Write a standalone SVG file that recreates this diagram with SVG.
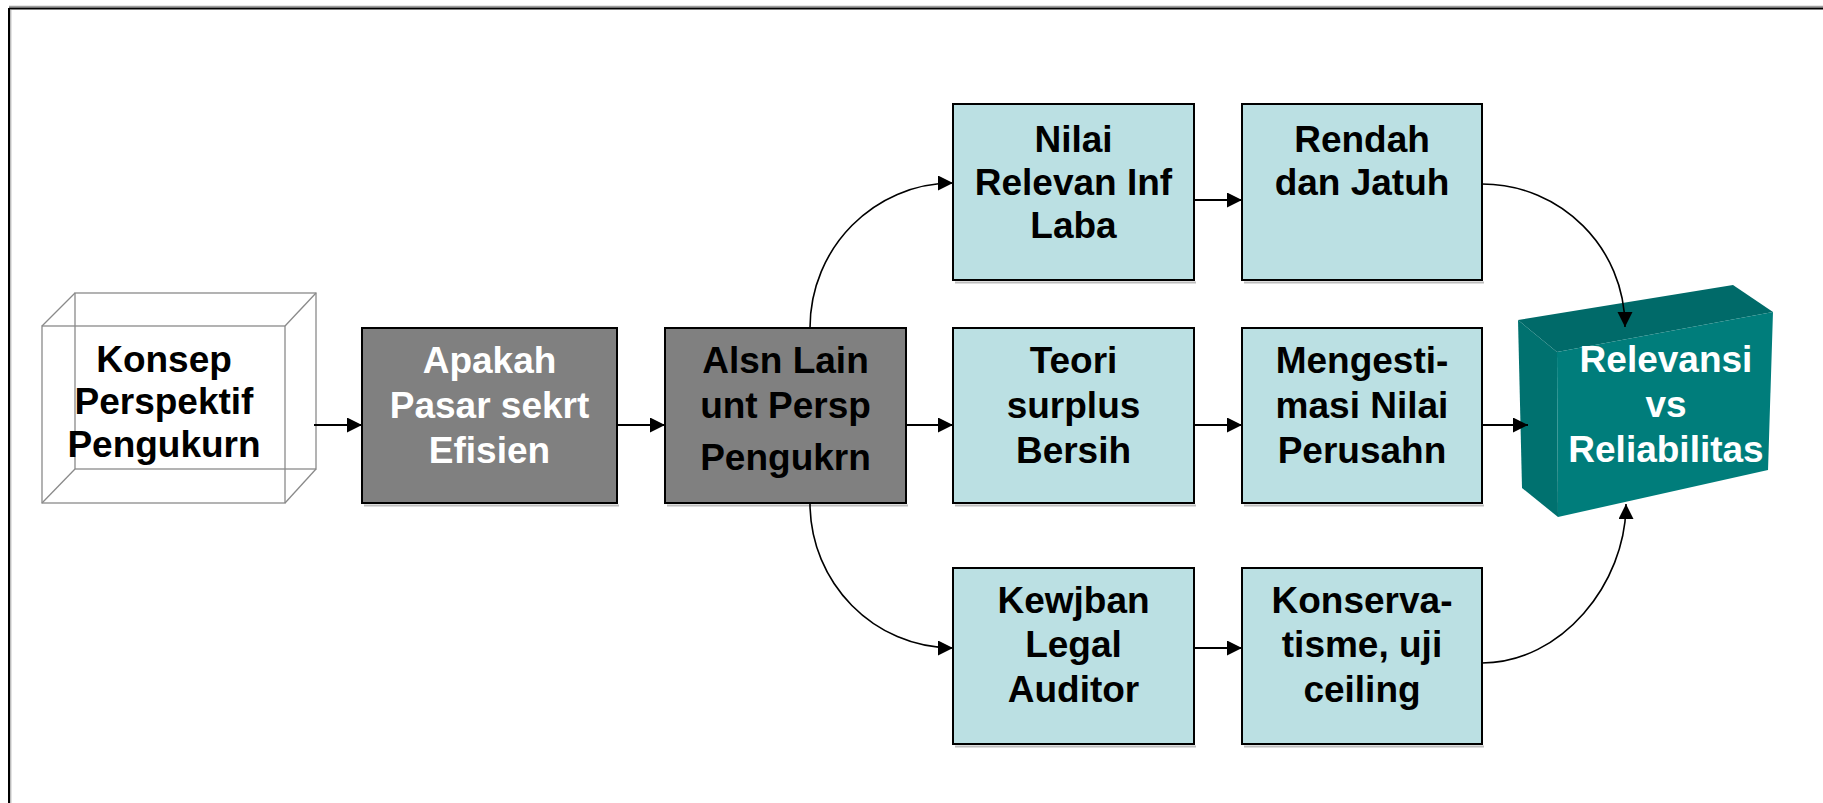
<svg xmlns="http://www.w3.org/2000/svg" width="1823" height="803" viewBox="0 0 1823 803">
  <defs>
    <marker id="arrow" markerUnits="userSpaceOnUse" markerWidth="16" markerHeight="16" refX="15" refY="7.5" orient="auto">
      <path d="M0,0 L15,7.5 L0,15 Z" fill="#000"/>
    </marker>
    <style>
      .lbl { font-family: "Liberation Sans", Arial, sans-serif; font-weight: bold; font-size: 37px; text-anchor: middle; }
      .dark { fill: #000; }
      .white { fill: #fff; }
      .gray { fill: #808080; stroke: #000; stroke-width: 2; }
      .teal { fill: #bbe0e3; stroke: #000; stroke-width: 2; }
      .shadow { fill: none; stroke: #bdbdbd; stroke-width: 2; }
      .wire { fill: none; stroke: #8a8a8a; stroke-width: 1.3; }
      .conn { fill: none; stroke: #000; stroke-width: 2; }
      .curve { fill: none; stroke: #000; stroke-width: 1.6; }
    </style>
  </defs>

  <rect width="1823" height="803" fill="#fff"/>

  <!-- slide frame -->
  <g id="frame">
    <line x1="9" y1="6.5" x2="1823" y2="6.5" stroke="#a0a0a0" stroke-width="1.5"/>
    <line x1="9" y1="8.5" x2="1823" y2="8.5" stroke="#000" stroke-width="2"/>
    <line x1="9" y1="8" x2="9" y2="803" stroke="#000" stroke-width="2"/>
    <line x1="10.8" y1="10" x2="10.8" y2="803" stroke="#a0a0a0" stroke-width="1"/>
  </g>

  <!-- wireframe cube -->
  <g id="node-konsep">
    <rect class="wire" x="75" y="293" width="241" height="176"/>
    <rect class="wire" x="42" y="326" width="243" height="177"/>
    <line class="wire" x1="42" y1="326" x2="75" y2="293"/>
    <line class="wire" x1="285" y1="326" x2="316" y2="293"/>
    <line class="wire" x1="285" y1="503" x2="316" y2="469"/>
    <line class="wire" x1="42" y1="503" x2="75" y2="469"/>
    <text class="lbl dark" x="164" y="372">Konsep</text>
    <text class="lbl dark" x="164" y="414">Perspektif</text>
    <text class="lbl dark" x="164" y="457">Pengukurn</text>
  </g>

  <g id="node-apakah">
    <line class="shadow" x1="364" y1="505.5" x2="619" y2="505.5"/>
    <rect class="gray" x="362" y="328" width="255" height="175"/>
    <text class="lbl white" x="489.5" y="373">Apakah</text>
    <text class="lbl white" x="489.5" y="418">Pasar sekrt</text>
    <text class="lbl white" x="489.5" y="463">Efisien</text>
  </g>

  <g id="node-alsn">
    <line class="shadow" x1="667" y1="505.5" x2="908" y2="505.5"/>
    <rect class="gray" x="665" y="328" width="241" height="175"/>
    <text class="lbl dark" x="785.5" y="373">Alsn Lain</text>
    <text class="lbl dark" x="785.5" y="418">unt Persp</text>
    <text class="lbl dark" x="785.5" y="470">Pengukrn</text>
  </g>

  <g id="node-nilai">
    <line class="shadow" x1="955" y1="282.5" x2="1196" y2="282.5"/>
    <rect class="teal" x="953" y="104" width="241" height="176"/>
    <text class="lbl dark" x="1073.5" y="152">Nilai</text>
    <text class="lbl dark" x="1073.5" y="195">Relevan Inf</text>
    <text class="lbl dark" x="1073.5" y="238">Laba</text>
  </g>

  <g id="node-rendah">
    <line class="shadow" x1="1244" y1="282.5" x2="1484" y2="282.5"/>
    <rect class="teal" x="1242" y="104" width="240" height="176"/>
    <text class="lbl dark" x="1362" y="152">Rendah</text>
    <text class="lbl dark" x="1362" y="195">dan Jatuh</text>
  </g>

  <g id="node-teori">
    <line class="shadow" x1="955" y1="505.5" x2="1196" y2="505.5"/>
    <rect class="teal" x="953" y="328" width="241" height="175"/>
    <text class="lbl dark" x="1073.5" y="373">Teori</text>
    <text class="lbl dark" x="1073.5" y="418">surplus</text>
    <text class="lbl dark" x="1073.5" y="463">Bersih</text>
  </g>

  <g id="node-mengestimasi">
    <line class="shadow" x1="1244" y1="505.5" x2="1484" y2="505.5"/>
    <rect class="teal" x="1242" y="328" width="240" height="175"/>
    <text class="lbl dark" x="1362" y="373">Mengesti-</text>
    <text class="lbl dark" x="1362" y="418">masi Nilai</text>
    <text class="lbl dark" x="1362" y="463">Perusahn</text>
  </g>

  <g id="node-kewjban">
    <line class="shadow" x1="955" y1="746.5" x2="1196" y2="746.5"/>
    <rect class="teal" x="953" y="568" width="241" height="176"/>
    <text class="lbl dark" x="1073.5" y="613">Kewjban</text>
    <text class="lbl dark" x="1073.5" y="657">Legal</text>
    <text class="lbl dark" x="1073.5" y="702">Auditor</text>
  </g>

  <g id="node-konservatisme">
    <line class="shadow" x1="1244" y1="746.5" x2="1484" y2="746.5"/>
    <rect class="teal" x="1242" y="568" width="240" height="176"/>
    <text class="lbl dark" x="1362" y="613">Konserva-</text>
    <text class="lbl dark" x="1362" y="657">tisme, uji</text>
    <text class="lbl dark" x="1362" y="702">ceiling</text>
  </g>

  <!-- solid teal block -->
  <g id="node-relevansi">
    <polygon points="1518,320 1733,285 1773,312 1557,352" fill="#006a69"/>
    <polygon points="1518,320 1557,352 1558,517 1522,488" fill="#00716f"/>
    <polygon points="1557,352 1773,312 1768,470 1558,517" fill="#007d7b"/>
    <text class="lbl white" x="1666" y="372">Relevansi</text>
    <text class="lbl white" x="1666" y="417">vs</text>
    <text class="lbl white" x="1666" y="462">Reliabilitas</text>
  </g>

  <!-- connectors, drawn last so the arrowheads sit on top of the block -->
  <g id="connectors">
    <line class="conn" x1="314" y1="425" x2="362" y2="425" marker-end="url(#arrow)"/>
    <line class="conn" x1="617" y1="425" x2="665" y2="425" marker-end="url(#arrow)"/>
    <line class="conn" x1="906" y1="425" x2="953" y2="425" marker-end="url(#arrow)"/>
    <line class="conn" x1="1194" y1="425" x2="1242" y2="425" marker-end="url(#arrow)"/>
    <line class="conn" x1="1482" y1="425" x2="1528" y2="425" marker-end="url(#arrow)"/>
    <line class="conn" x1="1194" y1="200" x2="1242" y2="200" marker-end="url(#arrow)"/>
    <line class="conn" x1="1194" y1="648" x2="1242" y2="648" marker-end="url(#arrow)"/>
    <path class="curve" d="M810 328 C810 248 874 183 953 183" marker-end="url(#arrow)"/>
    <path class="curve" d="M810 503 C810 583 874 648 953 648" marker-end="url(#arrow)"/>
    <path class="curve" d="M1482 184 C1561 184 1625 248 1625 327" marker-end="url(#arrow)"/>
    <path class="curve" d="M1482 663 C1561 663 1626 584 1626 504" marker-end="url(#arrow)"/>
  </g>
</svg>
